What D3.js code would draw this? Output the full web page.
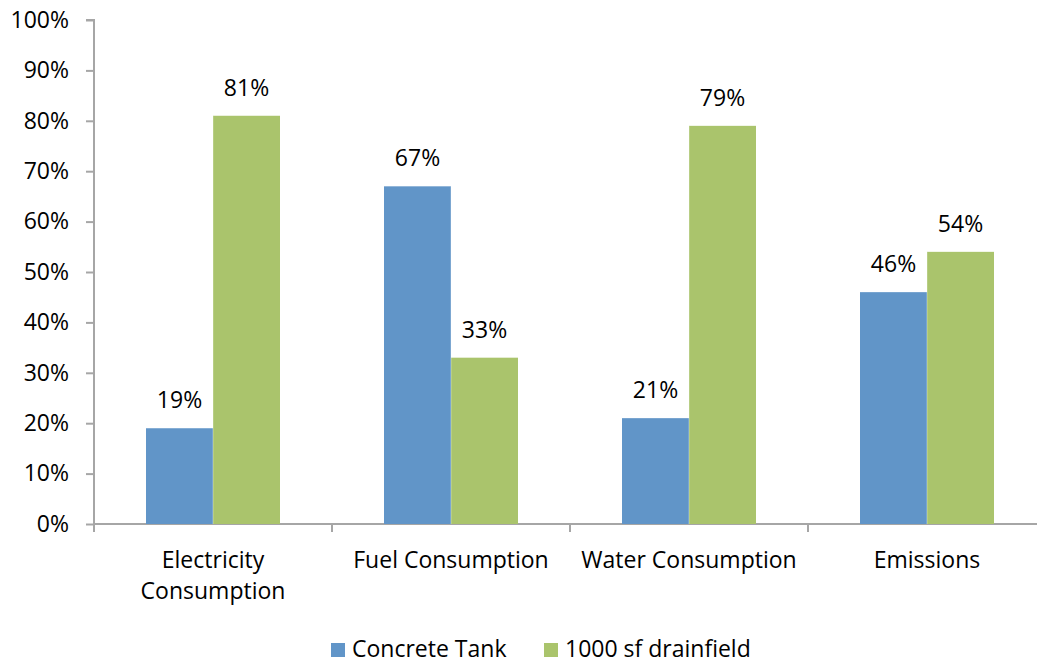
<!DOCTYPE html>
<html>
<head>
<meta charset="utf-8">
<script src="https://cdn.jsdelivr.net/npm/d3@7"></script>
<style>
  html, body { margin: 0; padding: 0; background: #fff; }
  svg { display: block; font-family: "Open Sans", sans-serif; }
</style>
</head>
<body>
<svg id="chart" width="1037" height="664"></svg>
<script>
// Category labels (multi-line where wrapped)
const categories = [
  ["Electricity", "Consumption"],
  ["Fuel Consumption"],
  ["Water Consumption"],
  ["Emissions"]
];
const seriesNames = ["Concrete Tank", "1000 sf drainfield"];
const concreteTank = [19, 67, 21, 46];
const drainfield = [81, 33, 79, 54];
const yTicks = [0, 10, 20, 30, 40, 50, 60, 70, 80, 90, 100];
const colors = ["#6195c8", "#aac46c"];

(function () {
  const svg = d3.select("#chart");
  const plotLeft = 94, plotRight = 1046, plotTop = 20, plotBottom = 524;
  const fontSize = 23;
  const fontFamily = "'Open Sans', sans-serif";

  const keys = categories.map((c, i) => i);
  const x0 = d3.scaleBand().domain(keys).range([plotLeft, plotRight]).padding(0);
  const x1 = d3.scaleBand().domain([0, 1])
    .range([52, x0.bandwidth() - 52]).padding(0);
  const y = d3.scaleLinear().domain([0, 100]).range([plotBottom, plotTop]);

  const axisColor = "#a6a6a6";

  // Y axis
  const yAxis = d3.axisLeft(y).tickValues(yTicks).tickSize(8).tickPadding(17)
    .tickFormat(d => d + "%");
  const gy = svg.append("g").attr("transform", `translate(${plotLeft},0)`).call(yAxis);
  gy.select(".domain").attr("stroke", axisColor).attr("stroke-width", 2)
    .attr("d", `M-8,${plotTop}H0V${plotBottom}`);
  gy.selectAll(".tick line").attr("stroke", axisColor).attr("stroke-width", 2);
  gy.selectAll(".tick text").attr("font-size", fontSize).attr("fill", "#000")
    .attr("font-family", fontFamily);

  // X axis line with category separators
  const gx = svg.append("g");
  gx.append("line").attr("x1", plotLeft).attr("x2", plotRight)
    .attr("y1", plotBottom).attr("y2", plotBottom)
    .attr("stroke", axisColor).attr("stroke-width", 2);
  d3.range(keys.length + 1).forEach(i => {
    const xx = plotLeft + i * x0.bandwidth();
    gx.append("line").attr("x1", xx).attr("x2", xx)
      .attr("y1", plotBottom).attr("y2", plotBottom + 8)
      .attr("stroke", axisColor).attr("stroke-width", 2);
  });

  // Bars
  const data = keys.map(i => [concreteTank[i], drainfield[i]]);
  const groups = svg.append("g").selectAll("g").data(data).join("g")
    .attr("transform", (d, i) => `translate(${x0(i)},0)`);
  groups.selectAll("rect").data(d => d).join("rect")
    .attr("x", (d, j) => x1(j))
    .attr("y", d => y(d))
    .attr("width", x1.bandwidth())
    .attr("height", d => y(0) - y(d))
    .attr("fill", (d, j) => colors[j]);
  groups.selectAll("line.sep").data(d => [d]).join("line")
    .attr("class", "sep")
    .attr("x1", x1(1)).attr("x2", x1(1))
    .attr("y1", d => y(Math.max(d[0], d[1]))).attr("y2", plotBottom)
    .attr("stroke", "#ffffff").attr("stroke-opacity", 0.35).attr("stroke-width", 1);

  // Value labels
  groups.selectAll("text.val").data(d => d).join("text")
    .attr("class", "val")
    .attr("x", (d, j) => x1(j) + x1.bandwidth() / 2)
    .attr("y", d => y(d) - 20)
    .attr("text-anchor", "middle")
    .attr("font-size", fontSize)
    .attr("fill", "#000")
    .text(d => d + "%");

  // Category labels
  categories.forEach((lines, i) => {
    const cx = x0(i) + x0.bandwidth() / 2;
    const t = svg.append("text")
      .attr("x", cx)
      .attr("y", 568)
      .attr("text-anchor", "middle")
      .attr("font-size", fontSize)
      .attr("fill", "#000");
    lines.forEach((ln, k) => {
      t.append("tspan").attr("x", cx).attr("dy", k === 0 ? 0 : 31).text(ln);
    });
  });

  // Legend
  const legendItems = [
    { name: seriesNames[0], x: 331 },
    { name: seriesNames[1], x: 544 }
  ];
  const lg = svg.append("g");
  legendItems.forEach((it, j) => {
    lg.append("rect").attr("x", it.x).attr("y", 643).attr("width", 14).attr("height", 14)
      .attr("fill", colors[j]);
    lg.append("text").attr("x", it.x + 21).attr("y", 657)
      .attr("font-size", fontSize).attr("fill", "#000").text(it.name);
  });
})();
</script>
</body>
</html>
